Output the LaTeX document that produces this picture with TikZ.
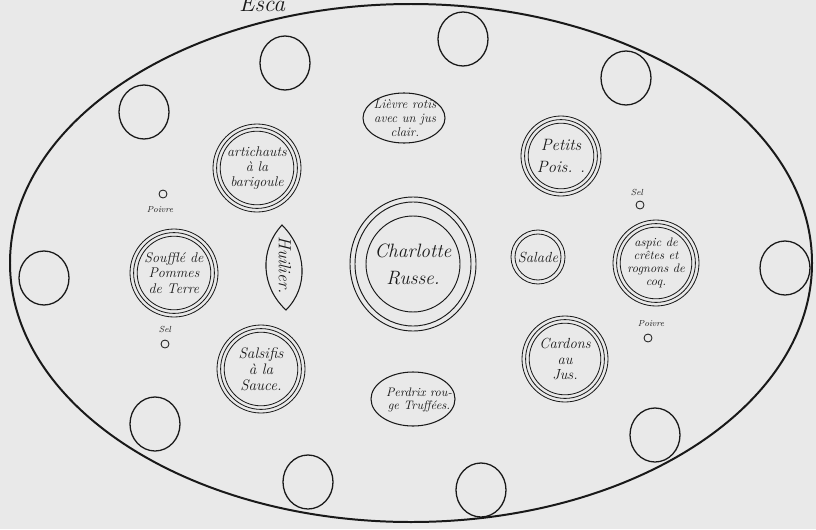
\documentclass[tikz,border=0pt]{standalone}
\usepackage{fontspec}
\usetikzlibrary{shapes.geometric}
\definecolor{paper}{RGB}{233,233,233}
\definecolor{ink}{RGB}{25,25,25}
\tikzset{
  chair/.style={draw=ink, line width=1.1pt, ellipse, inner sep=0pt,
    minimum width=1.5cm, minimum height=1.62cm},
  ring/.style={draw=ink, line width=0.7pt},
  plat/.style={text=ink, align=center, inner sep=0pt,
    font=\itshape\fontsize{12}{12.5}\selectfont},
  cruet/.style={draw=ink, line width=0.7pt, circle, inner sep=0pt,
    minimum size=0.24cm},
  tag/.style={text=ink, inner sep=0pt, font=\itshape\fontsize{7.5}{8}\selectfont}
}

\begin{document}
\begin{tikzpicture}[x=0.03cm, y=-0.03cm]
  \fill[paper] (0,0) rectangle (816,529);
  \useasboundingbox (0,0) rectangle (816,529);
  % heading, cut by the edge of the page
  \node[plat, font=\itshape\fontsize{20}{20}\selectfont, anchor=base]
    (title) at (262,11) {Esca};
  % the table
  \draw[ink, line width=1.7pt] (411,263) ellipse[x radius=401, y radius=259];
  % chairs round the table
  \foreach \cx/\cy [count=\i] in {285/63, 463/39, 626/78, 144/112, 44/278,
      785/268, 155/424, 308/482, 481/490, 655/435}
    \node[chair] (chair\i) at (\cx,\cy) {};

  % centre piece
  \node[plat, font=\itshape\fontsize{16.5}{23}\selectfont] (charlotte) at (413,264)
    {Charlotte\\Russe.};
  \foreach \rx/\ry in {63/67, 58/62, 47/48}
    \draw[ring, line width=0.8pt] (charlotte.center) ellipse[x radius=\rx, y radius=\ry];

  % dishes on three rings
  \node[plat] (artichauts) at (257,168) {artichauts\\à la\\barigoule};
  \node[plat, font=\itshape\fontsize{14}{18}\selectfont] (petitspois) at (561,156)
    {Petits\\Pois. .};
  \node[plat, font=\itshape\fontsize{12}{13}\selectfont] (souffle) at (174,273)
    {Soufflé de\\Pommes\\de Terre};
  \node[plat, font=\itshape\fontsize{13}{13.5}\selectfont] (salsifis) at (261,369)
    {Salsifis\\à la\\Sauce.};
  \node[plat, font=\itshape\fontsize{12.5}{13}\selectfont] (cardons) at (565,359)
    {Cardons\\au\\Jus.};
  \node[plat, font=\itshape\fontsize{10.5}{11.2}\selectfont] (aspic) at (656,263)
    {aspic de\\crêtes et\\rognons de\\coq.};
  \foreach \plat/\r in {artichauts/44, petitspois/40, souffle/44, salsifis/44,
      cardons/43, aspic/43}
    \foreach \d in {0,3.6,7.2}
      \draw[ring] (\plat.center) circle[radius=\r-\d];

  % salad, two rings
  \node[plat, font=\itshape\fontsize{12.5}{12}\selectfont] (salade) at (538,257) {Salade};
  \foreach \r in {27,23}
    \draw[ring] (salade.center) circle[radius=\r];

  % roasts in ovals
  \node[plat, font=\itshape\fontsize{11}{12}\selectfont] (lievre) at (405,118)
    {Lièvre rotis\\avec un jus\\clair.};
  \draw[ring, line width=0.9pt] (404,118) ellipse[x radius=41, y radius=25];
  \node[plat, font=\itshape\fontsize{10.5}{11.5}\selectfont] (perdrix) at (419,400)
    {Perdrix rou-\\ge Truffées.};
  \draw[ring, line width=0.9pt] (413,399) ellipse[x radius=42, y radius=27];

  % cruet stand
  \node[plat, font=\itshape\fontsize{15}{15}\selectfont, rotate=-90] (huilier)
    at (285,265) {Huilier.};
  \draw[ring, line width=0.9pt] (282,225) .. controls (259,250) and (261,287) .. (286,310)
    .. controls (309,287) and (307,250) .. (282,225) -- cycle;

  % salt and pepper
  \node[cruet] (poivreA) at (163,194) {};
  \node[tag] (poivreAtag) at (160,210) {Poivre};
  \node[tag] (selAtag) at (165,329) {Sel};
  \node[cruet] (selA) at (165,344) {};
  \node[tag] (selBtag) at (637,192) {Sel};
  \node[cruet] (selB) at (640,205) {};
  \node[tag] (poivreBtag) at (651,324) {Poivre};
  \node[cruet] (poivreB) at (648,338) {};
\end{tikzpicture}
\end{document}
